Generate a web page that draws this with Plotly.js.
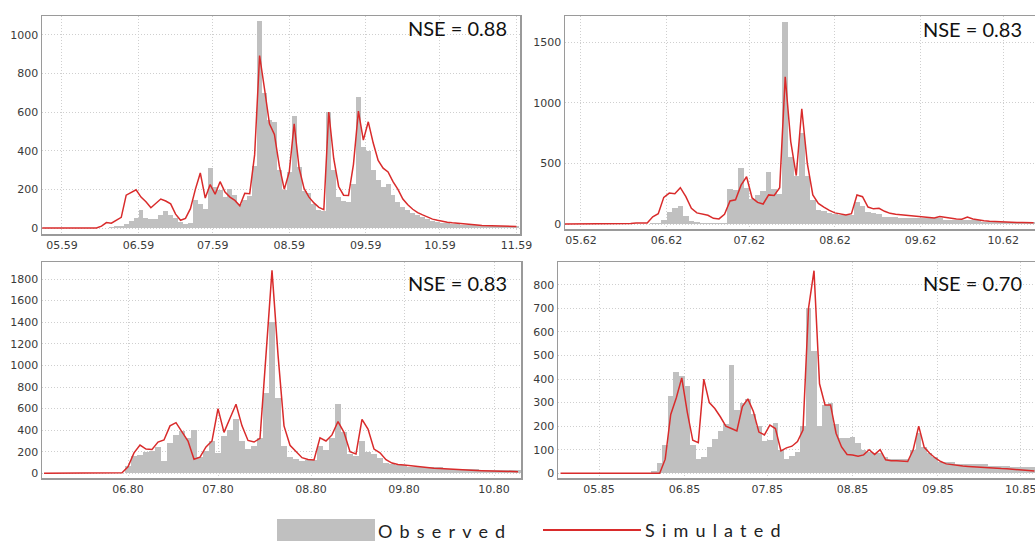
<!DOCTYPE html>
<html>
<head>
<meta charset="utf-8">
<script src="https://cdn.plot.ly/plotly-3.0.1.min.js"></script>
<style>
  html, body { margin: 0; padding: 0; background: #fff; }
  #chart { width: 1035px; height: 541px; }
</style>
</head>
<body>
<div id="chart"></div>
<script>
// ---------------- DATA ----------------
// Each series is sampled every 2 days starting on the given date.
const stepDays = 2;

// Panel 1 (1959)
const p1Start = '1959-04-23';
const p1Observed = [0,0,0,0,0,0,0,0,0,0,0,0,0,0,
  5,8,12,22,35,50,95,50,45,45,
  70,88,70,50,30,20,28,145,125,100,
  310,210,195,160,200,170,125,145,165,320,
  1070,700,560,550,300,195,290,578,316,190,
  180,126,95,90,600,300,160,140,135,229,
  678,420,400,300,250,212,229,170,135,110,
  95,80,70,55,48,35,31,28,25,22,
  20,18,17,16,15,14,13,12,12,12,
  11,11,10];
const p1Simulated = [0,0,0,0,0,0,0,0,0,0,0,0,
  10,28,25,38,55,170,182,198,160,136,
  105,130,150,140,125,72,40,50,100,200,
  285,155,225,175,240,186,160,143,115,180,
  178,380,893,720,540,485,320,200,290,540,
  310,205,160,130,107,95,600,360,215,170,
  168,330,605,455,550,440,350,310,290,240,
  200,150,120,97,80,68,56,46,40,34,
  30,27,24,21,19,17,15,13,12,10,
  10,9,9,9,8];
const p1NSE = 'NSE = 0.88';

// Panel 2 (1962)
const p2Start = '1962-04-25';
const p2Observed = [0,0,0,0,0,0,0,0,0,0,0,0,0,0,0,0,
  5,10,30,100,130,145,70,28,15,12,
  12,12,12,12,290,280,460,300,205,240,
  270,430,290,250,1667,555,400,750,400,200,
  115,110,88,80,74,74,74,184,150,100,
  88,80,60,60,55,50,48,47,47,47,
  47,47,47,33,33,33,33,33,33,33,
  20,20,20,20,20,20,20,20,20,20];
const p2Simulated = [0,0,0,0,0,0,0,0,0,3,
  3,3,5,8,5,8,60,85,220,255,
  250,300,225,130,92,80,72,47,42,80,
  190,200,320,390,215,178,165,240,235,300,
  1214,680,400,950,500,240,170,140,112,92,
  80,74,85,240,225,140,125,130,105,88,
  80,75,72,66,60,56,50,50,62,54,
  48,42,40,58,42,32,27,23,20,17,
  15,14,13,12,11,11];
const p2NSE = 'NSE = 0.83';

// Panel 3 (1980)
const p3Start = '1980-05-04';
const p3Observed = [0,0,0,0,0,0,0,0,0,0,0,0,0,0,
  70,165,170,200,205,240,110,280,355,390,
  330,400,150,210,300,190,350,400,500,300,
  225,250,330,740,1400,700,250,150,130,110,
  120,120,250,220,330,640,380,180,165,300,
  200,175,140,100,90,75,75,60,55,55,
  55,55,55,40,40,40,40,40,40,28,
  28,28,28,28,28,28];
const p3Simulated = [0,0,0,0,0,0,0,0,0,0,0,0,0,
  5,60,190,262,225,222,290,309,440,470,
  380,300,130,150,245,300,600,380,510,640,
  440,305,290,325,1098,1880,1100,440,260,205,
  145,128,124,330,300,356,480,380,200,180,
  500,410,225,190,126,95,82,77,70,62,
  57,52,48,44,40,36,32,30,28,27,
  25,24,22,20,19,17,16];
const p3NSE = 'NSE = 0.83';

// Panel 4 (1985)
const p4Start = '1985-04-17';
const p4Observed = [0,0,0,0,0,0,0,0,0,0,0,0,0,0,0,0,0,
  10,45,120,330,430,415,370,120,60,70,
  110,145,180,210,460,270,300,315,250,200,
  135,140,215,100,60,75,90,200,700,520,
  200,290,300,210,150,150,155,130,100,90,
  85,85,70,60,60,60,60,100,170,110,
  85,70,50,50,50,40,40,40,40,40,
  40,33,33,33,33,25,25,25,25,25];
const p4Simulated = [0,0,0,0,0,0,0,0,0,0,0,0,0,0,0,0,0,0,0,
  60,250,320,405,260,140,130,400,300,275,
  240,200,190,180,283,316,262,175,163,205,
  190,95,108,115,135,184,700,860,380,290,
  290,170,112,80,78,72,78,100,80,100,
  57,53,53,52,50,100,200,110,85,65,
  50,40,36,33,31,29,27,25,24,23,
  21,20,19,17,15,13,12,10];
const p4NSE = 'NSE = 0.70';

const legendLabels = ['Observed', 'Simulated'];

// ---------------- HELPERS ----------------
function datesFrom(start, n, step) {
  const [y, m, d] = start.split('-').map(Number);
  const base = Date.UTC(y, m - 1, d);
  const out = [];
  for (let i = 0; i < n; i++) {
    const t = new Date(base + i * step * 86400000);
    out.push(t.toISOString().slice(0, 10));
  }
  return out;
}

const OBS_COLOR = '#c0c0c0';
const SIM_COLOR = '#d92b2b';
const BAR_W = stepDays * 86400000;

const panels = [
  {start: p1Start, obs: p1Observed, sim: p1Simulated},
  {start: p2Start, obs: p2Observed, sim: p2Simulated},
  {start: p3Start, obs: p3Observed, sim: p3Simulated},
  {start: p4Start, obs: p4Observed, sim: p4Simulated}
];

const traces = [];
panels.forEach((p, k) => {
  const ax = k === 0 ? '' : String(k + 1);
  traces.push({
    type: 'bar', x: datesFrom(p.start, p.obs.length, stepDays), y: p.obs,
    width: BAR_W, marker: {color: OBS_COLOR, line: {width: 0}},
    xaxis: 'x' + ax, yaxis: 'y' + ax, name: legendLabels[0], hoverinfo: 'x+y'
  });
  traces.push({
    type: 'scatter', mode: 'lines', x: datesFrom(p.start, p.sim.length, stepDays), y: p.sim,
    line: {color: SIM_COLOR, width: 1.5},
    xaxis: 'x' + ax, yaxis: 'y' + ax, name: legendLabels[1], hoverinfo: 'x+y'
  });
});

const W = 1035, H = 541;
const px = v => v / W;
const py = v => (H - v) / H;

const tickFont = {family: 'DejaVu Sans, Verdana, sans-serif', size: 11, color: '#3a3a3a'};
const GRID = {showgrid: true, gridcolor: '#cfcfcf', griddash: '1px,2px', gridwidth: 1};
function xax(domL, domR, range) {
  return Object.assign({
    type: 'date', domain: [px(domL), domR], range: range,
    dtick: 'M1', tickformat: '%m.%y',
    showline: true, mirror: true, linecolor: '#9a9a9a', linewidth: 1.5,
    ticks: '', tickfont: tickFont, zeroline: false, fixedrange: true,
    ticklabeloverflow: 'allow'
  }, GRID);
}
function yax(top, bottom, range, dtick) {
  return Object.assign({
    domain: [py(bottom), py(top)], range: range, dtick: dtick, tick0: 0,
    showline: true, mirror: true, linecolor: '#9a9a9a', linewidth: 1.5,
    ticks: '', tickfont: tickFont, zeroline: false, fixedrange: true
  }, GRID);
}

const nseFont = {family: 'Lato, Open Sans, sans-serif', size: 20, color: '#111'};
const legFont = {family: 'Lato, Open Sans, sans-serif', size: 18, color: '#222'};

const layout = {
  width: W, height: H,
  margin: {l: 0, r: 0, t: 0, b: 0},
  paper_bgcolor: '#ffffff', plot_bgcolor: '#ffffff',
  showlegend: false, bargap: 0,
  xaxis:  Object.assign(xax(42, px(520), ['1959-04-22 22:00', '1959-11-02 10:00']), {anchor: 'y'}),
  yaxis:  Object.assign(yax(16, 234, [-31, 1098], 200), {anchor: 'x'}),
  xaxis2: Object.assign(xax(565, 1, ['1962-04-25 05:00', '1962-10-12 12:00']), {anchor: 'y2'}),
  yaxis2: Object.assign(yax(16, 229, [-41, 1715], 500), {anchor: 'x2'}),
  xaxis3: Object.assign(xax(42, px(521), ['1980-05-03 08:00', '1980-10-10 00:00']), {anchor: 'y3'}),
  yaxis3: Object.assign(yax(262, 478, [-43, 1958], 200), {anchor: 'x3'}),
  xaxis4: Object.assign(xax(558, 1, ['1985-04-16 02:00', '1985-10-06 05:00']), {anchor: 'y4'}),
  yaxis4: Object.assign(yax(262, 478, [-20, 897], 100), {anchor: 'x4'}),
  annotations: [
    {text: p1NSE, xref: 'paper', yref: 'paper', x: px(509), y: py(28), xanchor: 'right', yanchor: 'middle', showarrow: false, font: nseFont},
    {text: p2NSE, xref: 'paper', yref: 'paper', x: px(1024), y: py(29), xanchor: 'right', yanchor: 'middle', showarrow: false, font: nseFont},
    {text: p3NSE, xref: 'paper', yref: 'paper', x: px(509), y: py(283), xanchor: 'right', yanchor: 'middle', showarrow: false, font: nseFont},
    {text: p4NSE, xref: 'paper', yref: 'paper', x: px(1024), y: py(283), xanchor: 'right', yanchor: 'middle', showarrow: false, font: nseFont},
    {text: legendLabels[0], xref: 'paper', yref: 'paper', x: px(376), y: py(531), xanchor: 'left', yanchor: 'middle', align: 'left', showarrow: false, font: legFont},
    {text: legendLabels[1], xref: 'paper', yref: 'paper', x: px(643), y: py(530), xanchor: 'left', yanchor: 'middle', align: 'left', showarrow: false, font: legFont}
  ],
  shapes: [
    {type: 'rect', xref: 'paper', yref: 'paper', x0: px(277), x1: px(375), y0: py(541), y1: py(519), fillcolor: OBS_COLOR, line: {width: 0}},
    {type: 'line', xref: 'paper', yref: 'paper', x0: px(543), x1: px(641), y0: py(530), y1: py(530), line: {color: SIM_COLOR, width: 2}}
  ]
};

Plotly.newPlot('chart', traces, layout, {staticPlot: true, displayModeBar: false}).then(() => {
  document.querySelectorAll('#chart .annotation-text').forEach(t => {
    if (legendLabels.indexOf(t.textContent) >= 0) {
      t.style.letterSpacing = '7.2px';
    }
  });
});
</script>
</body>
</html>
